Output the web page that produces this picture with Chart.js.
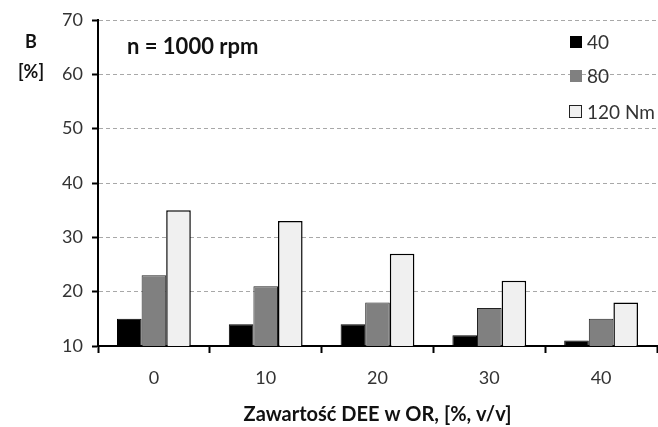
<!DOCTYPE html>
<html>
<head>
<meta charset="utf-8">
<script src="https://cdn.jsdelivr.net/npm/chart.js@4.4.0/dist/chart.umd.min.js"></script>
<style>
  html, body { margin: 0; padding: 0; background: #fff; }
  #wrap { width: 658px; height: 427px; }
</style>
</head>
<body>
<div id="wrap"><canvas id="chart" width="658" height="427"></canvas></div>
<script>
const categories = ["0", "10", "20", "30", "40"];
const seriesLabels = ["40", "80", "120 Nm"];
const torque40 = [15, 14, 14, 12, 11];
const torque80 = [23, 21, 18, 17, 15];
const torque120 = [35, 33, 27, 22, 18];
const yTicks = [10, 20, 30, 40, 50, 60, 70];

const FONT = "Lato, 'Open Sans', sans-serif";

// annotation text + legend drawn over the plot
const overlay = {
  id: "overlay",
  afterDraw(chart) {
    const ctx = chart.ctx;
    ctx.save();
    ctx.fillStyle = "#111";
    ctx.textBaseline = "middle";
    ctx.font = "bold 22px " + FONT;
    ctx.textAlign = "left";
    ctx.fillText("n = 1000 rpm", 127, 47);

    ctx.font = "bold 18px " + FONT;
    ctx.textAlign = "center";
    ctx.fillText("B", 31, 42);
    ctx.fillText("[%]", 31, 72);

    // legend
    const ys = [42, 76, 112];
    ctx.font = "19px " + FONT;
    ctx.textAlign = "left";
    chart.data.datasets.forEach((ds, i) => {
      const y = ys[i];
      ctx.fillStyle = ds.backgroundColor;
      ctx.fillRect(570, y - 6, 12, 12);
      if (i === 2) {
        ctx.strokeStyle = "#222";
        ctx.lineWidth = 1;
        ctx.strokeRect(569.5, y - 6.5, 12, 12);
      }
      ctx.fillStyle = "#333";
      ctx.fillText(ds.label, 587, y + 1);
    });
    ctx.restore();
  }
};

new Chart(document.getElementById("chart"), {
  type: "bar",
  data: {
    labels: categories,
    datasets: [
      { label: seriesLabels[0], data: torque40, backgroundColor: "#000000", borderColor: "#000", borderWidth: 1 },
      { label: seriesLabels[1], data: torque80, backgroundColor: "#808080", borderColor: "#222", borderWidth: 1 },
      { label: seriesLabels[2], data: torque120, backgroundColor: "#f0f0f0", borderColor: "#000", borderWidth: 1.5 }
    ]
  },
  options: {
    responsive: false,
    animation: false,
    devicePixelRatio: 1,
    layout: { padding: { left: 0, right: 1, top: 20, bottom: 0 } },
    datasets: { bar: { categoryPercentage: 0.66, barPercentage: 1 } },
    plugins: {
      legend: { display: false },
      tooltip: { enabled: false }
    },
    scales: {
      x: {
        grid: { display: true, drawOnChartArea: false, offset: true, tickLength: 7, tickColor: "#000", tickWidth: 2 },
        border: { display: true, color: "#000", width: 2 },
        ticks: { color: "#333", font: { family: FONT, size: 18 }, padding: 14 },
        title: { display: true, text: "Zawartość DEE w OR, [%, v/v]", color: "#111", font: { family: FONT, size: 20, weight: "bold" }, padding: { top: 8, bottom: 0 } },
        afterFit(scale) { scale.height = 81; }
      },
      y: {
        min: 10,
        max: 70,
        afterBuildTicks(scale) { scale.ticks = yTicks.map(v => ({ value: v })); },
        grid: { color: "#a8a8a8", lineWidth: 1, tickLength: 6, tickColor: "#000", tickWidth: 2, tickBorderDash: [] },
        border: { display: true, color: "#000", width: 2, dash: [4, 3] },
        ticks: { color: "#333", font: { family: FONT, size: 18 }, padding: 9 },
        afterFit(scale) { scale.width = 98; }
      }
    }
  },
  plugins: [overlay]
});
</script>
</body>
</html>
